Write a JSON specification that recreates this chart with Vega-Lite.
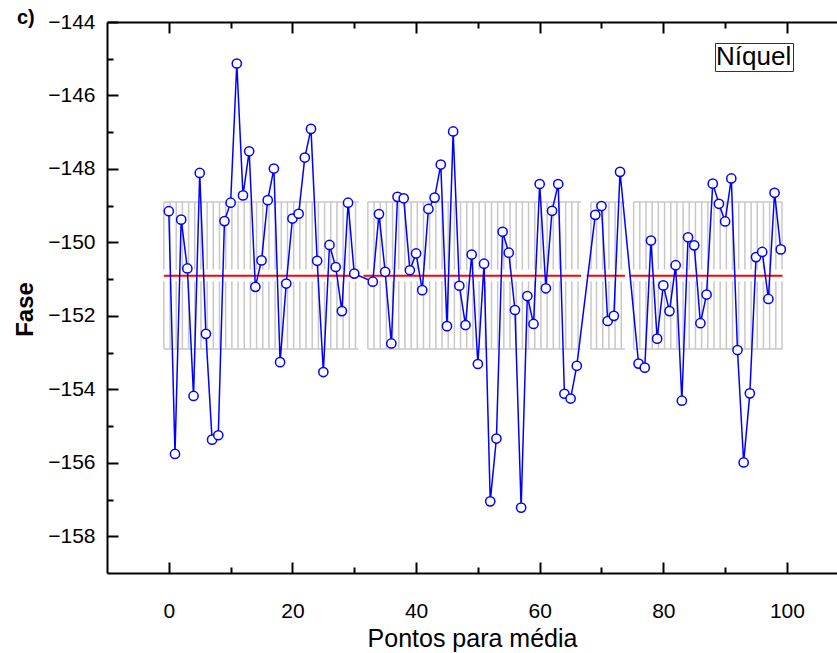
{
  "$schema": "https://vega.github.io/schema/vega-lite/v6.json",
  "autosize": "none",
  "width": 730,
  "height": 551,
  "padding": {"left": 107, "top": 22, "right": 0, "bottom": 80},
  "background": "white",
  "title": {"text": "c)", "anchor": "start", "frame": "group", "dx": -90, "dy": 37, "offset": 0, "baseline": "bottom", "fontSize": 20, "fontWeight": "bold", "font": "Liberation Sans", "color": "black"},
  "config": {
    "view": {"stroke": null},
    "axis": {"grid": false, "labelFont": "Liberation Sans", "titleFont": "Liberation Sans", "labelColor": "black", "titleColor": "black", "domainColor": "black", "tickColor": "black", "domainWidth": 2, "tickWidth": 2, "labelFontSize": 21, "titleFontSize": 25, "titleFontWeight": "normal"},
    "legend": {"labelFont": "Liberation Sans"}
  },
  "datasets": {
    "pts": [
      {"x": 0, "y": -149.15, "serie": "Níquel"}, {"x": 1, "y": -155.76, "serie": "Níquel"}, {"x": 2, "y": -149.38, "serie": "Níquel"}, {"x": 3, "y": -150.71, "serie": "Níquel"}, {"x": 4, "y": -154.18, "serie": "Níquel"},
      {"x": 5, "y": -148.11, "serie": "Níquel"}, {"x": 6, "y": -152.49, "serie": "Níquel"}, {"x": 7, "y": -155.37, "serie": "Níquel"}, {"x": 8, "y": -155.25, "serie": "Níquel"}, {"x": 9, "y": -149.42, "serie": "Níquel"},
      {"x": 10, "y": -148.92, "serie": "Níquel"}, {"x": 11, "y": -145.13, "serie": "Níquel"}, {"x": 12, "y": -148.72, "serie": "Níquel"}, {"x": 13, "y": -147.52, "serie": "Níquel"}, {"x": 14, "y": -151.21, "serie": "Níquel"},
      {"x": 15, "y": -150.49, "serie": "Níquel"}, {"x": 16, "y": -148.85, "serie": "Níquel"}, {"x": 17, "y": -147.99, "serie": "Níquel"}, {"x": 18, "y": -153.26, "serie": "Níquel"}, {"x": 19, "y": -151.12, "serie": "Níquel"},
      {"x": 20, "y": -149.35, "serie": "Níquel"}, {"x": 21, "y": -149.22, "serie": "Níquel"}, {"x": 22, "y": -147.69, "serie": "Níquel"}, {"x": 23, "y": -146.91, "serie": "Níquel"}, {"x": 24, "y": -150.5, "serie": "Níquel"},
      {"x": 25, "y": -153.53, "serie": "Níquel"}, {"x": 26, "y": -150.07, "serie": "Níquel"}, {"x": 27, "y": -150.67, "serie": "Níquel"}, {"x": 28, "y": -151.87, "serie": "Níquel"}, {"x": 29, "y": -148.92, "serie": "Níquel"},
      {"x": 30, "y": -150.85, "serie": "Níquel"}, {"x": 33, "y": -151.07, "serie": "Níquel"}, {"x": 34, "y": -149.23, "serie": "Níquel"},
      {"x": 35, "y": -150.8, "serie": "Níquel"}, {"x": 36, "y": -152.75, "serie": "Níquel"}, {"x": 37, "y": -148.76, "serie": "Níquel"}, {"x": 38, "y": -148.8, "serie": "Níquel"}, {"x": 39, "y": -150.76, "serie": "Níquel"},
      {"x": 40, "y": -150.3, "serie": "Níquel"}, {"x": 41, "y": -151.3, "serie": "Níquel"}, {"x": 42, "y": -149.09, "serie": "Níquel"}, {"x": 43, "y": -148.78, "serie": "Níquel"}, {"x": 44, "y": -147.88, "serie": "Níquel"},
      {"x": 45, "y": -152.28, "serie": "Níquel"}, {"x": 46, "y": -146.98, "serie": "Níquel"}, {"x": 47, "y": -151.18, "serie": "Níquel"}, {"x": 48, "y": -152.25, "serie": "Níquel"}, {"x": 49, "y": -150.33, "serie": "Níquel"},
      {"x": 50, "y": -153.31, "serie": "Níquel"}, {"x": 51, "y": -150.58, "serie": "Níquel"}, {"x": 52, "y": -157.05, "serie": "Níquel"}, {"x": 53, "y": -155.34, "serie": "Níquel"}, {"x": 54, "y": -149.71, "serie": "Níquel"},
      {"x": 55, "y": -150.28, "serie": "Níquel"}, {"x": 56, "y": -151.84, "serie": "Níquel"}, {"x": 57, "y": -157.22, "serie": "Níquel"}, {"x": 58, "y": -151.46, "serie": "Níquel"}, {"x": 59, "y": -152.22, "serie": "Níquel"},
      {"x": 60, "y": -148.41, "serie": "Níquel"}, {"x": 61, "y": -151.25, "serie": "Níquel"}, {"x": 62, "y": -149.14, "serie": "Níquel"}, {"x": 63, "y": -148.41, "serie": "Níquel"}, {"x": 64, "y": -154.12, "serie": "Níquel"},
      {"x": 65, "y": -154.25, "serie": "Níquel"}, {"x": 66, "y": -153.36, "serie": "Níquel"}, {"x": 69, "y": -149.25, "serie": "Níquel"},
      {"x": 70, "y": -149.01, "serie": "Níquel"}, {"x": 71, "y": -152.14, "serie": "Níquel"}, {"x": 72, "y": -152.0, "serie": "Níquel"}, {"x": 73, "y": -148.08, "serie": "Níquel"},
      {"x": 76, "y": -153.3, "serie": "Níquel"}, {"x": 77, "y": -153.41, "serie": "Níquel"}, {"x": 78, "y": -149.95, "serie": "Níquel"}, {"x": 79, "y": -152.62, "serie": "Níquel"},
      {"x": 80, "y": -151.17, "serie": "Níquel"}, {"x": 81, "y": -151.87, "serie": "Níquel"}, {"x": 82, "y": -150.62, "serie": "Níquel"}, {"x": 83, "y": -154.31, "serie": "Níquel"}, {"x": 84, "y": -149.86, "serie": "Níquel"},
      {"x": 85, "y": -150.08, "serie": "Níquel"}, {"x": 86, "y": -152.2, "serie": "Níquel"}, {"x": 87, "y": -151.42, "serie": "Níquel"}, {"x": 88, "y": -148.4, "serie": "Níquel"}, {"x": 89, "y": -148.95, "serie": "Níquel"},
      {"x": 90, "y": -149.43, "serie": "Níquel"}, {"x": 91, "y": -148.26, "serie": "Níquel"}, {"x": 92, "y": -152.93, "serie": "Níquel"}, {"x": 93, "y": -155.99, "serie": "Níquel"}, {"x": 94, "y": -154.11, "serie": "Níquel"},
      {"x": 95, "y": -150.4, "serie": "Níquel"}, {"x": 96, "y": -150.26, "serie": "Níquel"}, {"x": 97, "y": -151.54, "serie": "Níquel"}, {"x": 98, "y": -148.65, "serie": "Níquel"}, {"x": 99, "y": -150.19, "serie": "Níquel"}
    ],
    "hatch": [
      {"x": -0.8}, {"x": 0.2}, {"x": 1.2}, {"x": 2.2}, {"x": 3.2}, {"x": 4.2}, {"x": 5.2}, {"x": 6.2}, {"x": 7.2}, {"x": 8.2}, {"x": 9.2},
      {"x": 10.2}, {"x": 11.2}, {"x": 12.2}, {"x": 13.2}, {"x": 14.2}, {"x": 15.2}, {"x": 16.2}, {"x": 17.2}, {"x": 18.2}, {"x": 19.2},
      {"x": 20.2}, {"x": 21.2}, {"x": 22.2}, {"x": 23.2}, {"x": 24.2}, {"x": 25.2}, {"x": 26.2}, {"x": 27.2}, {"x": 28.2}, {"x": 29.2}, {"x": 30.2},
      {"x": 32.2}, {"x": 33.2}, {"x": 34.2}, {"x": 35.2}, {"x": 36.2}, {"x": 37.2}, {"x": 38.2}, {"x": 39.2},
      {"x": 40.2}, {"x": 41.2}, {"x": 42.2}, {"x": 43.2}, {"x": 44.2}, {"x": 45.2}, {"x": 46.2}, {"x": 47.2}, {"x": 48.2}, {"x": 49.2},
      {"x": 50.2}, {"x": 51.2}, {"x": 52.2}, {"x": 53.2}, {"x": 54.2}, {"x": 55.2}, {"x": 56.2}, {"x": 57.2}, {"x": 58.2}, {"x": 59.2},
      {"x": 60.2}, {"x": 61.2}, {"x": 62.2}, {"x": 63.2}, {"x": 64.2}, {"x": 65.2}, {"x": 66.2},
      {"x": 68.3}, {"x": 69.2}, {"x": 70.2}, {"x": 71.2}, {"x": 72.2}, {"x": 73.2},
      {"x": 75.2}, {"x": 76.2}, {"x": 77.2}, {"x": 78.2}, {"x": 79.2},
      {"x": 80.2}, {"x": 81.2}, {"x": 82.2}, {"x": 83.2}, {"x": 84.2}, {"x": 85.2}, {"x": 86.2}, {"x": 87.2}, {"x": 88.2}, {"x": 89.2},
      {"x": 90.2}, {"x": 91.2}, {"x": 92.2}, {"x": 93.2}, {"x": 94.2}, {"x": 95.2}, {"x": 96.2}, {"x": 97.2}, {"x": 98.2}, {"x": 99.2}
    ],
    "band": [
      {"x1": -0.8, "x2": 30.7, "y": -148.9}, {"x1": 32.2, "x2": 66.7, "y": -148.9}, {"x1": 68.3, "x2": 73.8, "y": -148.9}, {"x1": 75.2, "x2": 99.3, "y": -148.9},
      {"x1": -0.8, "x2": 30.7, "y": -152.9}, {"x1": 32.2, "x2": 66.7, "y": -152.9}, {"x1": 68.3, "x2": 73.8, "y": -152.9}, {"x1": 75.2, "x2": 99.3, "y": -152.9}
    ],
    "mean": [
      {"x1": -0.8, "x2": 30.8, "y": -150.91}, {"x1": 31.5, "x2": 66.7, "y": -150.91}, {"x1": 67.6, "x2": 73.8, "y": -150.91}, {"x1": 74.6, "x2": 99.3, "y": -150.91}
    ]
  },
  "resolve": {"axis": {"x": "independent", "y": "independent"}},
  "layer": [
    {
      "data": {"name": "hatch"},
      "mark": {"type": "rule", "color": "#c8c8c8", "strokeWidth": 1.5},
      "encoding": {
        "x": {"field": "x", "type": "quantitative", "scale": {"domain": [-10, 108.1], "nice": false, "zero": false},
          "axis": {"orient": "bottom", "values": [0, 20, 40, 60, 80, 100], "tickSize": -11, "labelPadding": 38, "title": "Pontos para média", "titlePadding": 5, "labelFlush": false, "labelOverlap": false}},
        "y": {"datum": -148.9, "type": "quantitative", "scale": {"domain": [-159, -144], "nice": false, "zero": false},
          "axis": {"orient": "left", "values": [-144, -146, -148, -150, -152, -154, -156, -158], "tickSize": -11, "labelPadding": 23, "title": "Fase", "titlePadding": 10, "titleY": 287, "titleFontWeight": "bold", "titleFontSize": 24, "labelFlush": false, "labelOverlap": false}},
        "y2": {"datum": -150.74}
      }
    },
    {
      "data": {"name": "hatch"},
      "mark": {"type": "rule", "color": "#c8c8c8", "strokeWidth": 1.5},
      "encoding": {
        "x": {"field": "x", "type": "quantitative", "scale": {"domain": [-10, 108.1], "nice": false, "zero": false},
          "axis": {"orient": "bottom", "values": [10, 30, 50, 70, 90], "tickSize": -6, "labels": false, "domain": false, "title": null}},
        "y": {"datum": -151.06, "type": "quantitative", "scale": {"domain": [-159, -144], "nice": false, "zero": false},
          "axis": {"orient": "left", "values": [-145, -147, -149, -151, -153, -155, -157], "tickSize": -6, "labels": false, "domain": false, "title": null}},
        "y2": {"datum": -152.9}
      }
    },
    {
      "data": {"name": "band"},
      "mark": {"type": "rule", "color": "#c8c8c8", "strokeWidth": 1.5},
      "encoding": {
        "x": {"field": "x1", "type": "quantitative", "scale": {"domain": [-10, 108.1], "nice": false, "zero": false},
          "axis": {"orient": "top", "values": [0, 20, 40, 60, 80, 100], "tickSize": -11, "labels": false, "title": null}},
        "x2": {"field": "x2"},
        "y": {"field": "y", "type": "quantitative", "scale": {"domain": [-159, -144], "nice": false, "zero": false}, "axis": null}
      }
    },
    {
      "data": {"name": "mean"},
      "mark": {"type": "rule", "color": "#ff0000", "strokeWidth": 2},
      "encoding": {
        "x": {"field": "x1", "type": "quantitative", "scale": {"domain": [-10, 108.1], "nice": false, "zero": false},
          "axis": {"orient": "top", "values": [10, 30, 50, 70, 90], "tickSize": -6, "labels": false, "domain": false, "title": null}},
        "x2": {"field": "x2"},
        "y": {"field": "y", "type": "quantitative", "scale": {"domain": [-159, -144], "nice": false, "zero": false}, "axis": null}
      }
    },
    {
      "data": {"name": "pts"},
      "mark": {"type": "line", "color": "#0000ff", "strokeWidth": 1.5},
      "encoding": {
        "x": {"field": "x", "type": "quantitative", "scale": {"domain": [-10, 108.1], "nice": false, "zero": false}, "axis": null},
        "y": {"field": "y", "type": "quantitative", "scale": {"domain": [-159, -144], "nice": false, "zero": false}, "axis": null}
      }
    },
    {
      "data": {"name": "pts"},
      "mark": {"type": "point", "shape": "circle", "filled": false, "fill": "white", "fillOpacity": 1, "strokeWidth": 1.5, "size": 85, "opacity": 1},
      "encoding": {
        "x": {"field": "x", "type": "quantitative", "scale": {"domain": [-10, 108.1], "nice": false, "zero": false}, "axis": null},
        "y": {"field": "y", "type": "quantitative", "scale": {"domain": [-159, -144], "nice": false, "zero": false}, "axis": null},
        "stroke": {"field": "serie", "type": "nominal", "scale": {"domain": ["Níquel"], "range": ["#0000ff"]},
          "legend": {"orient": "none", "legendX": 608, "legendY": 21, "title": null, "strokeColor": "#333333", "fillColor": "white", "padding": 1, "symbolSize": 0, "symbolStrokeWidth": 0, "symbolOpacity": 0, "labelOffset": -26, "labelFontSize": 26, "labelColor": "black", "labelFont": "Liberation Sans"}}
      }
    }
  ]
}
